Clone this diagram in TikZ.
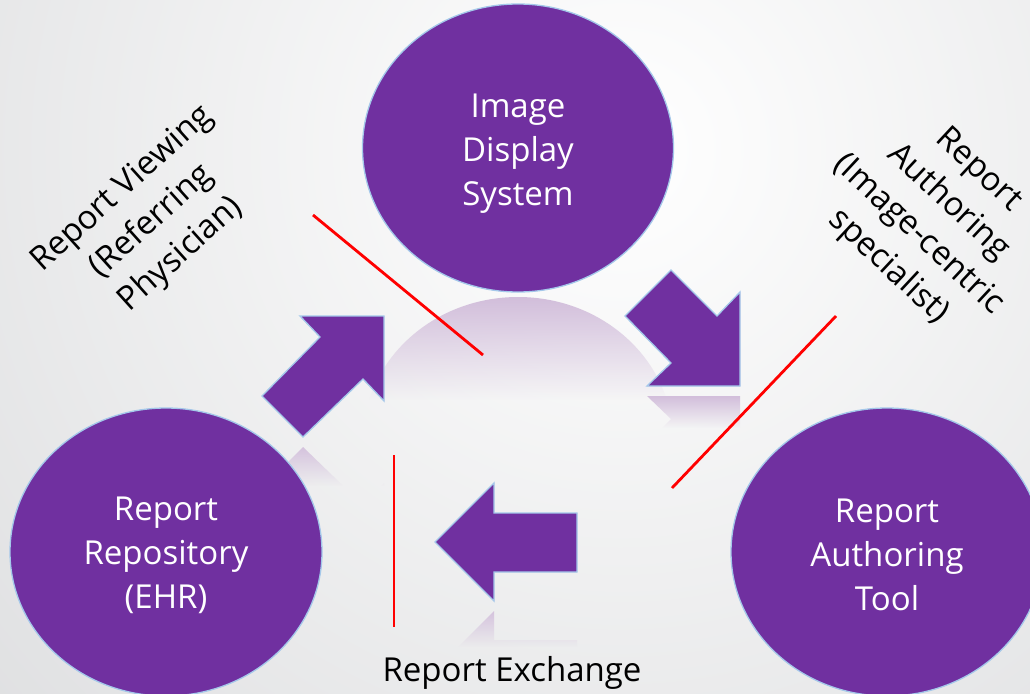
\documentclass[tikz,border=0pt]{standalone}
\usepackage{fontspec}
\setmainfont{Open Sans}
\usetikzlibrary{shapes.geometric,fadings}
\definecolor{purp}{HTML}{7030A0}
\definecolor{edgeblue}{HTML}{A4C8EA}
\definecolor{bgout}{HTML}{D4D5D7}
\definecolor{refl}{HTML}{D2BEDB}
\tikzfading[name=fadedown, top color=transparent!0, bottom color=transparent!100]
\begin{document}
\begin{tikzpicture}[x=1pt,y=-1pt,
  bubble/.style={ellipse, fill=purp, draw=edgeblue, line width=1.3pt, text=white, align=center,
    font=\fontsize{33}{44}\selectfont, inner sep=0pt},
  blockarrow/.style={fill=purp, draw=edgeblue, line width=1.3pt, line join=miter},
  sepline/.style={red, line width=2.8pt},
  reflfill/.style={fill=refl, path fading=fadedown},
  lbl/.style={align=center, font=\fontsize{33}{44}\selectfont, text=black, inner sep=0pt}]
\useasboundingbox (0,0) rectangle (1030,693);
% background
\fill[bgout] (0,0) rectangle (1030,693);
\begin{scope}
  \clip (0,0) rectangle (1030,693);
  \shade[inner color=white, outer color=bgout] (620,150) circle (1150);
\end{scope}
% reflection of the top circle
\begin{scope}
  \clip (518,440) ellipse (155 and 143);
  \fill[reflfill] (360,297) rectangle (680,400);
\end{scope}
% reflection of the down-right arrow
\begin{scope}
  \clip (671,512) -- (717,466) -- (740,490) -- (740,396) -- (647,396) -- (671,419) -- (625,466) -- cycle;
  \fill[reflfill] (620,396) rectangle (745,428);
\end{scope}
% reflection of the up-right arrow
\begin{scope}
  \clip (300,568) -- (384,568) -- (384,483) -- (363,505) -- (303,447) -- (262,488) -- (320,547) -- cycle;
  \fill[reflfill, fill opacity=0.9] (255,447) rectangle (390,486);
\end{scope}
% reflection of the left arrow
\begin{scope}
  \clip (435,670) -- (494,729) -- (494,699) -- (577,699) -- (577,640) -- (494,640) -- (494,611) -- cycle;
  \fill[reflfill, fill opacity=0.9] (430,611) rectangle (580,647);
\end{scope}
% circles
\node[bubble, minimum width=311, minimum height=288] (ids) at (518,148) {\rule{0pt}{34pt}Image\\Display\\System};
\node[bubble, minimum width=312, minimum height=288] (repo) at (166,552) {\rule{0pt}{30pt}Report\\Repository\\(EHR)};
\node[bubble, minimum width=312, minimum height=288] (tool) at (887,552) {\rule{0pt}{30pt}Report\\Authoring\\Tool};
% block arrows
\draw[blockarrow] (300,316) -- (384,316) -- (384,401) -- (363,379) -- (303,437) -- (262,396) -- (320,337) -- cycle;
\draw[blockarrow] (671,270) -- (717,316) -- (740,292) -- (740,386) -- (647,386) -- (671,363) -- (625,316) -- cycle;
\draw[blockarrow] (435,542) -- (494,483) -- (494,513) -- (577,513) -- (577,572) -- (494,572) -- (494,601) -- cycle;
% red separators
\draw[sepline] (313,215) -- (483,355);
\draw[sepline] (836,316) -- (672,488);
\draw[sepline] (394,455) -- (394,627);
% labels
\node[lbl, rotate=42] (view) at (152,222) {Report Viewing\\(Referring\\Physician)};
\node[lbl, rotate=-43] (auth) at (933,219) {Report\\Authoring\\(Image-centric\\specialist)};
\node[lbl, anchor=base] (exch) at (512,681) {Report Exchange};
\end{tikzpicture}
\end{document}
